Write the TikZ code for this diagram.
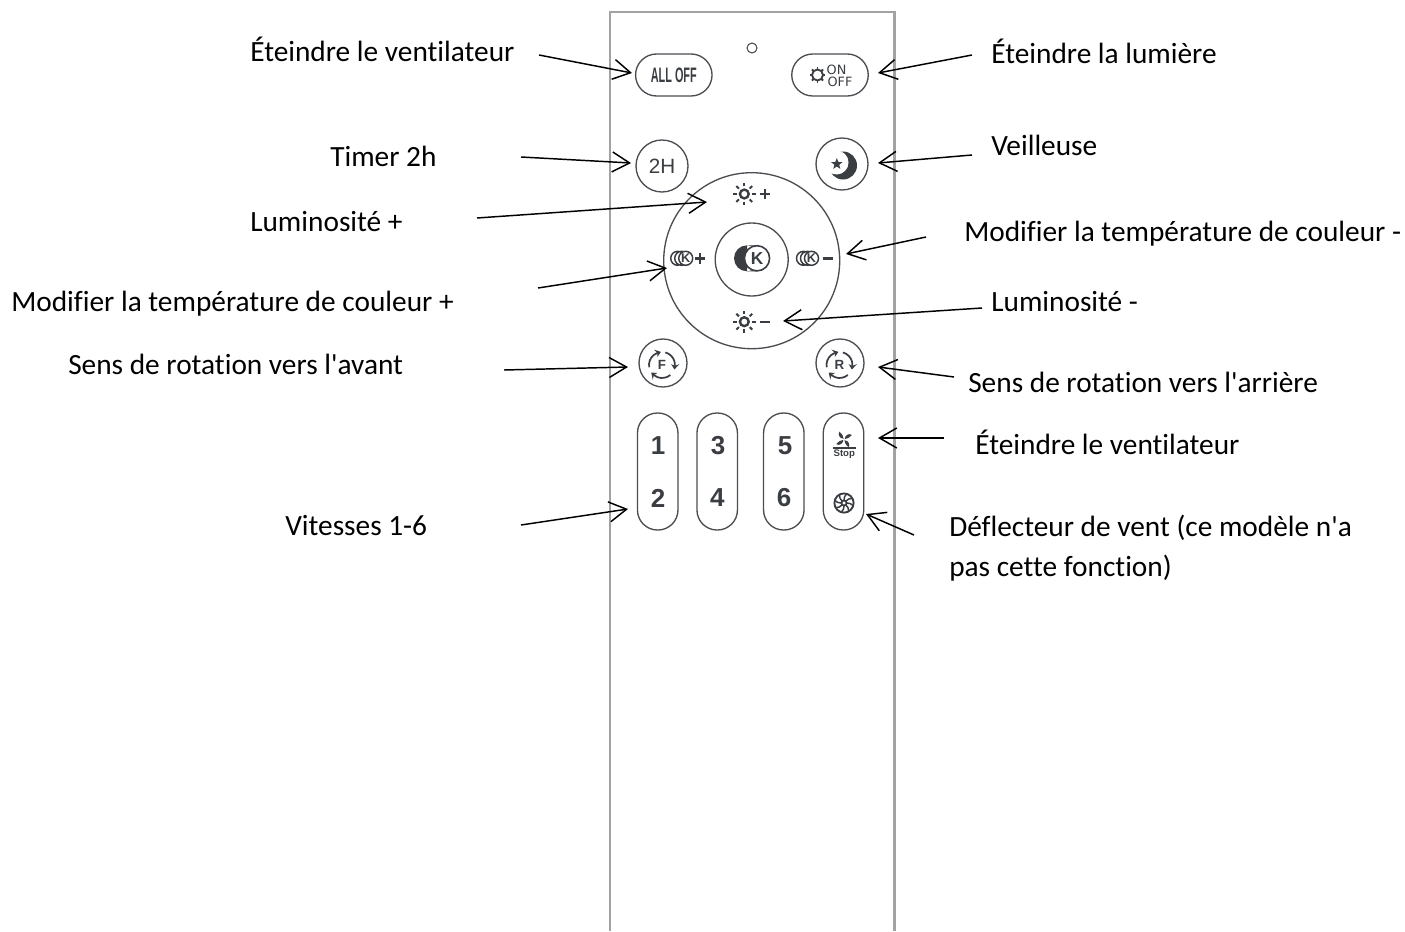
\documentclass[tikz,border=0pt]{standalone}
\usepackage{fontspec}
\setmainfont{Carlito}[Ligatures={TeXOff,CommonOff}]
\newfontfamily\lib{Liberation Sans}
\newfontfamily\dej{DejaVu Sans}
\usetikzlibrary{arrows.meta,bending,shapes.geometric,shapes.misc}
\definecolor{ink}{HTML}{3A3D42}
\definecolor{rim}{HTML}{4A4D52}
\definecolor{frame}{HTML}{A2A2A2}
\tikzset{
  lbl/.style={anchor=base west,inner sep=0pt,font=\fontsize{22}{26}\selectfont,text=black},
  arr/.style={draw=black,line width=1.1pt,-{Straight Barb[length=13pt,width=15pt,line width=1.1pt]}},
  btn/.style={draw=rim,line width=1pt,inner sep=0pt,text=ink},
  roundbtn/.style={btn,circle,minimum size=#1*.75pt},
  pillh/.style={btn,rounded rectangle,minimum width=76.5*.75pt,minimum height=42*.75pt},
  pillv/.style={btn,rectangle,rounded corners=15pt,minimum width=40.5*.75pt,minimum height=117*.75pt},
  num/.style={inner sep=0pt,text=ink,font=\lib\bfseries\fontsize{19.5}{20}\selectfont},
  iconline/.style={draw=ink,line width=1.1pt},
  ray/.style={draw=ink,line width=1.5pt},
  rotarc/.style={draw=ink,line width=1.3pt,-{Stealth[length=4pt,width=6pt,bend]}},
  pics/sunicon/.style={code={
    \draw[draw=ink,line width=1.8pt] (0,0) circle[radius=4.4];
    \foreach \a in {0,45,...,315} \draw[ray] (\a:7.6) -- (\a:11.2);
  }},
  pics/plusmark/.style={code={
    \draw[ink,line width=1.8pt] (-5.2,0) -- (5.2,0) (0,-5.2) -- (0,5.2);
  }},
  pics/minusmark/.style={code={
    \draw[ink,line width=1.8pt] (-5.2,0) -- (5.2,0);
  }},
  pics/rings/.style={code={
    \draw[iconline] (-8,0) circle[radius=7] (-4,0) circle[radius=7];
    \draw[iconline,fill=white] (0,0) circle[radius=7];
    \node[inner sep=0pt,text=ink,font=\lib\bfseries\fontsize{9.5}{10}\selectfont] at (0,0) {K};
  }},
  pics/rotate/.style={code={
    \draw[rotarc] (170:13) arc[start angle=170,end angle=265,radius=13];
    \draw[rotarc] (285:13) arc[start angle=285,end angle=380,radius=13];
    \draw[rotarc] (50:13) arc[start angle=50,end angle=145,radius=13];
  }}
}
\begin{document}
\begin{tikzpicture}[x=.75pt,y=-.75pt]
\useasboundingbox (0,0) rectangle (1405,931);
% remote body
\draw[frame,line width=2.2pt] (610,931) -- (610,12) -- (894.5,12) -- (894.5,931);
% buttons
\node[draw=rim,circle,line width=.8pt,minimum size=7.5pt,inner sep=0pt] (led) at (752,48) {};
\node[pillh] (alloff) at (673.8,75) {\scalebox{.52}[1]{\lib\bfseries\fontsize{15.7}{16}\selectfont ALL OFF}};
\node[pillh] (onoff) at (830,75) {};
\node[roundbtn=52] (timer) at (662,166) {\lib\fontsize{15.5}{18}\selectfont 2H};
\node[roundbtn=52] (night) at (842,164) {};
\node[roundbtn=176] (ring) at (751.7,260.7) {};
\node[roundbtn=73] (kbtn) at (751.7,259.5) {};
\node[roundbtn=48] (fwd) at (663,363) {};
\node[roundbtn=48] (rev) at (840,363) {};
\node[pillv] (s12) at (657.7,471.5) {};
\node[pillv] (s34) at (717.2,471.5) {};
\node[pillv] (s56) at (783.8,471.5) {};
\node[pillv] (stopbtn) at (843.5,471.5) {};
% on/off icon
\draw[draw=ink,line width=1.4pt] (817.5,75) circle[radius=5.5];
\foreach \a in {0,45,...,315} \draw[draw=ink,line width=1.4pt] (817.5,75) ++(\a:5.5) -- ++(\a:2.4);
\node[inner sep=0pt,text=ink,font=\dej\fontsize{9.6}{10}\selectfont] (ontxt) at (836.5,69.5) {ON};
\node[inner sep=0pt,text=ink,font=\dej\fontsize{9.6}{10}\selectfont] (offtxt) at (840,81.5) {OFF};
% moon
\fill[ink] (843,165.5) circle[radius=14];
\fill[white] (836.5,162.5) circle[radius=12];
\node[star,star points=5,star point ratio=2.4,fill=ink,inner sep=0pt,minimum size=9pt] (moonstar) at (836.8,164) {};
% dial icons
\pic at (744.3,194) {sunicon};
\pic at (744.3,321.7) {sunicon};
\pic at (765,194) {plusmark};
\pic at (765,321.7) {minusmark};
\pic at (685.7,258.3) {rings};
\pic at (811.5,258.3) {rings};
\pic at (700,258.3) {plusmark};
\pic at (827.7,258.3) {minusmark};
% centre K
\fill[ink] (747,258.3) circle[radius=13] (747,245.3) rectangle (757,271.3);
\draw[draw=ink,line width=1.2pt,fill=white] (757,258.3) circle[radius=12.6];
\node[inner sep=0pt,text=ink,font=\lib\bfseries\fontsize{13}{14}\selectfont] (ktxt) at (757,258.3) {K};
% rotation icons
\pic at (662,365) {rotate};
\pic at (839.5,365) {rotate};
\node[inner sep=0pt,text=ink,font=\lib\bfseries\fontsize{10}{11}\selectfont] (ftxt) at (662,364.5) {F};
\node[inner sep=0pt,text=ink,font=\lib\bfseries\fontsize{10}{11}\selectfont] (rtxt) at (839.5,364.5) {R};
% speed numbers
\node[num] (n1) at (658,446) {1};
\node[num] (n2) at (658,498) {2};
\node[num] (n3) at (718,446) {3};
\node[num] (n4) at (717.3,498) {4};
\node[num] (n5) at (785,446) {5};
\node[num] (n6) at (784,498) {6};
% stop icon
\foreach \a in {30,120,210,300} \fill[ink,shift={(844,439.5)},rotate=\a] (.8,0) .. controls (3,-3.6) and (8,-3) .. (9,0) .. controls (6,1.2) and (3,1.2) .. (.8,0) -- cycle;
\draw[ink,line width=1.3pt] (832.7,447.7) -- (856,447.7);
\node[inner sep=0pt,text=ink,font=\lib\bfseries\fontsize{7.2}{7}\selectfont] (stoptxt) at (844.3,454.5) {Stop};
% deflector icon
\draw[ink,line width=1.4pt] (844,503) circle[radius=9.6] (844,503) circle[radius=2.6];
\foreach \a in {0,45,...,315} \draw[ink,line width=1.1pt] (844,503) ++(\a:2.6) to[bend left=25] ++(\a+22:7);
% labels
\node[lbl] (l1) at (250,61) {Éteindre le ventilateur};
\node[lbl] (l2) at (991,64) {Éteindre la lumière};
\node[lbl] (l3) at (330,166) {Timer 2h};
\node[lbl] (l4) at (991,155) {Veilleuse};
\node[lbl] (l5) at (250,231) {Luminosité +};
\node[lbl] (l6) at (11,311) {Modifier la température de couleur +};
\node[lbl] (l7) at (964,241) {Modifier la température de couleur -};
\node[lbl] (l8) at (991,311) {Luminosité -};
\node[lbl] (l9) at (68,374) {Sens de rotation vers l'avant};
\node[lbl] (l10) at (968,392) {Sens de rotation vers l'arrière};
\node[lbl] (l11) at (975,454) {Éteindre le ventilateur};
\node[lbl] (l12) at (949,536) {Déflecteur de vent (ce modèle n'a};
\node[lbl] (l12b) at (949,576) {pas cette fonction)};
\node[lbl] (l13) at (285,535) {Vitesses 1-6};
% arrow ends
\coordinate (a1) at (539,55);   \coordinate (b1) at (632,73);
\coordinate (a2) at (972,55);   \coordinate (b2) at (878,73);
\coordinate (a3) at (521,157);  \coordinate (b3) at (631,163);
\coordinate (a4) at (972,155);  \coordinate (b4) at (878,163);
\coordinate (a5) at (477,218);  \coordinate (b5) at (707,202);
\coordinate (a6) at (538,288);  \coordinate (b6) at (667,268);
\coordinate (a7) at (926,237);  \coordinate (b7) at (846,254);
\coordinate (a8) at (982,308);  \coordinate (b8) at (783,321);
\coordinate (a9) at (504,370);  \coordinate (b9) at (628,367);
\coordinate (a10) at (954,377); \coordinate (b10) at (878,367);
\coordinate (a11) at (944,438); \coordinate (b11) at (878,438);
\coordinate (a12) at (521,525); \coordinate (b12) at (628,509);
\coordinate (a13) at (914,535); \coordinate (b13) at (866,514);
\foreach \i in {1,...,13} \draw[arr] (a\i) -- (b\i);
\end{tikzpicture}
\end{document}
